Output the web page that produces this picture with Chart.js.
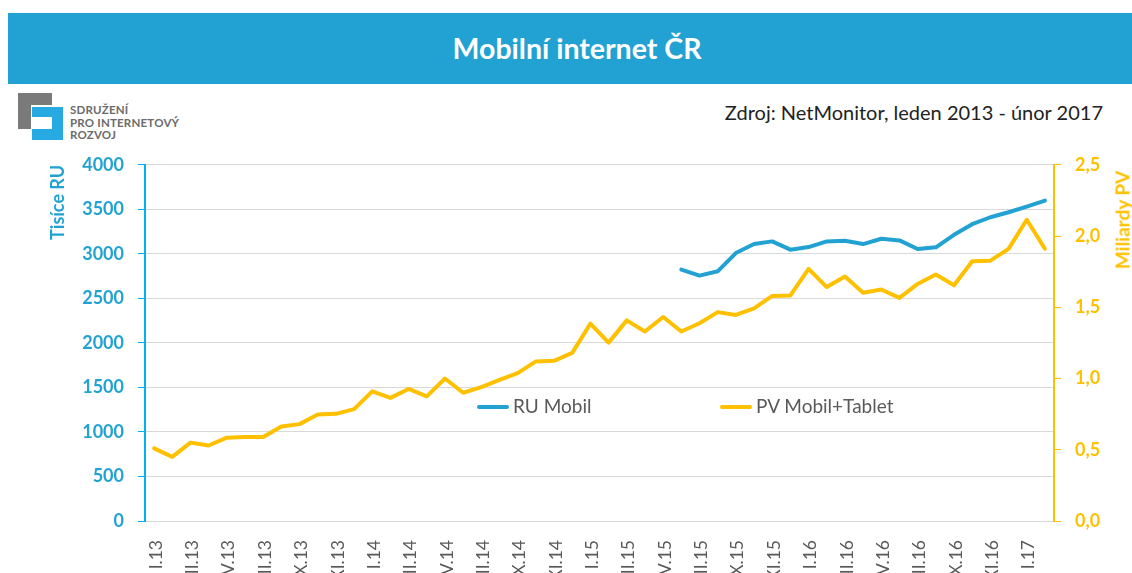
<!DOCTYPE html>
<html lang="cs">
<head>
<meta charset="utf-8">
<title>Mobilní internet ČR</title>
<script src="https://cdn.jsdelivr.net/npm/chart.js@4.4.1/dist/chart.umd.min.js"></script>
<style>
    html, body { margin: 0; padding: 0; background: #fff; overflow: hidden; }
    body { width: 1132px; height: 573px; position: relative; font-family: Lato, "Open Sans", sans-serif; }
    .banner { position: absolute; left: 8px; top: 13px; width: 1110px; padding-left: 14px; height: 71px; background: #22a2d2;
        color: #fff; font-weight: bold; font-size: 28.5px; text-align: center; line-height: 71px; }
    .logo-block { position: absolute; }
    .logo-text { position: absolute; left: 70px; top: 104px; font-size: 11.5px; line-height: 12.5px; color: #6b6b6b; font-weight: bold; letter-spacing: 0.2px; }
    .source { position: absolute; right: 29px; top: 100px; font-size: 20px; color: #222; }
    .chart-wrap { position: absolute; left: 0; top: 140px; width: 1132px; height: 433px; }
    .legend { position: absolute; top: 394px; font-size: 19px; color: #595959; line-height: 24px; }
    .legend i { display: inline-block; width: 32px; height: 4px; border-radius: 2px; vertical-align: middle; margin-right: 4px; position: relative; top: -1px; }
    .right-title { position: absolute; left: 1122px; top: 220px; width: 0; height: 0; }
    .right-title span { position: absolute; white-space: nowrap; transform: translate(-50%, -50%) rotate(-90deg);
        color: #ffc000; font-weight: bold; font-size: 19px; }
</style>
</head>
<body>
<div class="banner">Mobilní internet ČR</div>

<!-- logo SPIR -->
<div class="logo-block" style="left:18px;top:93px;width:34px;height:12px;background:#7a7a7a"></div>
<div class="logo-block" style="left:18px;top:93px;width:13px;height:36px;background:#7a7a7a"></div>
<div class="logo-block" style="left:32px;top:107px;width:31px;height:10px;background:#27a9e1"></div>
<div class="logo-block" style="left:52px;top:107px;width:11px;height:33px;background:#27a9e1"></div>
<div class="logo-block" style="left:32px;top:129px;width:31px;height:11px;background:#27a9e1"></div>
<div class="logo-text">SDRUŽENÍ<br>PRO INTERNETOVÝ<br>ROZVOJ</div>

<div class="source">Zdroj: NetMonitor, leden 2013 - únor 2017</div>

<div class="chart-wrap"><canvas id="chart"></canvas></div>

<div class="legend" style="left:477px"><i style="background:#22a2d2"></i>RU Mobil</div>
<div class="legend" style="left:720px"><i style="background:#ffc000"></i>PV Mobil+Tablet</div>
<div class="right-title"><span>Miliardy PV</span></div>

<script>
// months I.13 .. II.17
const romanMonths = ['I', 'II', 'III', 'IV', 'V', 'VI', 'VII', 'VIII', 'IX', 'X', 'XI', 'XII'];
const years = ['13', '14', '15', '16', '17'];
const labels = [];
years.forEach(function(y) {
    romanMonths.forEach(function(m) {
        if (labels.length < 50) labels.push(m + '.' + y);
    });
});

// RU Mobil (tisíce) - data only from VI.15
const ruMobil = [
    null, null, null, null, null, null, null, null, null, null,
    null, null, null, null, null, null, null, null, null, null,
    null, null, null, null, null, null, null, null, null, 2823,
    2756, 2804, 3009, 3110, 3140, 3047, 3076, 3140, 3147, 3110,
    3170, 3151, 3054, 3073, 3214, 3333, 3411, 3467, 3531, 3598
];

// PV Mobil+Tablet (miliardy)
const pvMobilTablet = [
    0.51, 0.45, 0.55, 0.53, 0.585, 0.59, 0.59, 0.663, 0.68, 0.747,
    0.752, 0.785, 0.91, 0.864, 0.927, 0.875, 1.0, 0.90, 0.94, 0.99,
    1.038, 1.12, 1.124, 1.18, 1.385, 1.252, 1.408, 1.33, 1.432, 1.33,
    1.388, 1.466, 1.446, 1.492, 1.58, 1.583, 1.77, 1.642, 1.716, 1.602,
    1.625, 1.566, 1.664, 1.73, 1.655, 1.823, 1.827, 1.91, 2.114, 1.911
];

const blue = '#22a2d2';
const axisBlue = '#00b0f0';
const yellow = '#ffc000';
const gridGray = '#d9d9d9';
const fontFamily = 'Lato, "Open Sans", sans-serif';

const ctx = document.getElementById('chart').getContext('2d');

new Chart(ctx, {
    type: 'line',
    data: {
        labels: labels,
        datasets: [{
            label: 'RU Mobil',
            data: ruMobil,
            yAxisID: 'y',
            borderColor: blue,
            borderWidth: 4,
            pointRadius: 0,
            borderCapStyle: 'round',
            borderJoinStyle: 'round',
            tension: 0
        }, {
            label: 'PV Mobil+Tablet',
            data: pvMobilTablet,
            yAxisID: 'y1',
            borderColor: yellow,
            borderWidth: 4,
            pointRadius: 0,
            borderCapStyle: 'round',
            borderJoinStyle: 'round',
            tension: 0
        }]
    },
    options: {
        responsive: true,
        maintainAspectRatio: false,
        animation: false,
        layout: { padding: { top: 23, left: 0, right: 0, bottom: 0 } },
        plugins: {
            legend: { display: false },
            tooltip: { enabled: false }
        },
        scales: {
            x: {
                offset: true,
                grid: { display: false },
                border: { display: true, color: gridGray, width: 1 },
                ticks: {
                    autoSkip: false,
                    maxRotation: 90,
                    minRotation: 90,
                    padding: 11,
                    labelOffset: 2,
                    color: '#595959',
                    font: { family: fontFamily, size: 17.5 },
                    callback: function(value, index) {
                        return index % 2 === 0 ? this.getLabelForValue(value) : '';
                    }
                },
                afterFit: function(scale) { scale.height = 52; }
            },
            y: {
                position: 'left',
                min: 0,
                max: 4000,
                ticks: {
                    stepSize: 500,
                    padding: 14,
                    color: blue,
                    font: { family: fontFamily, size: 18, weight: 'bold' },
                    callback: function(value) { return String(value); }
                },
                grid: { color: gridGray, tickColor: axisBlue, tickLength: 7 },
                border: { color: axisBlue, width: 2 },
                title: {
                    display: true,
                    text: 'Tisíce RU',
                    align: 'end',
                    color: blue,
                    font: { family: fontFamily, size: 18, weight: 'bold' },
                    padding: { top: 47, bottom: 0 }
                },
                afterFit: function(scale) { scale.width = 145; }
            },
            y1: {
                position: 'right',
                min: 0,
                max: 2.5,
                ticks: {
                    stepSize: 0.5,
                    padding: 14,
                    color: yellow,
                    font: { family: fontFamily, size: 18, weight: 'bold' },
                    callback: function(value) {
                        return value.toFixed(1).replace('.', ',');
                    }
                },
                grid: { drawOnChartArea: false, tickColor: yellow, tickLength: 7 },
                border: { color: yellow, width: 2 },
                afterFit: function(scale) { scale.width = 78; }
            }
        }
    }
});
</script>
</body>
</html>
